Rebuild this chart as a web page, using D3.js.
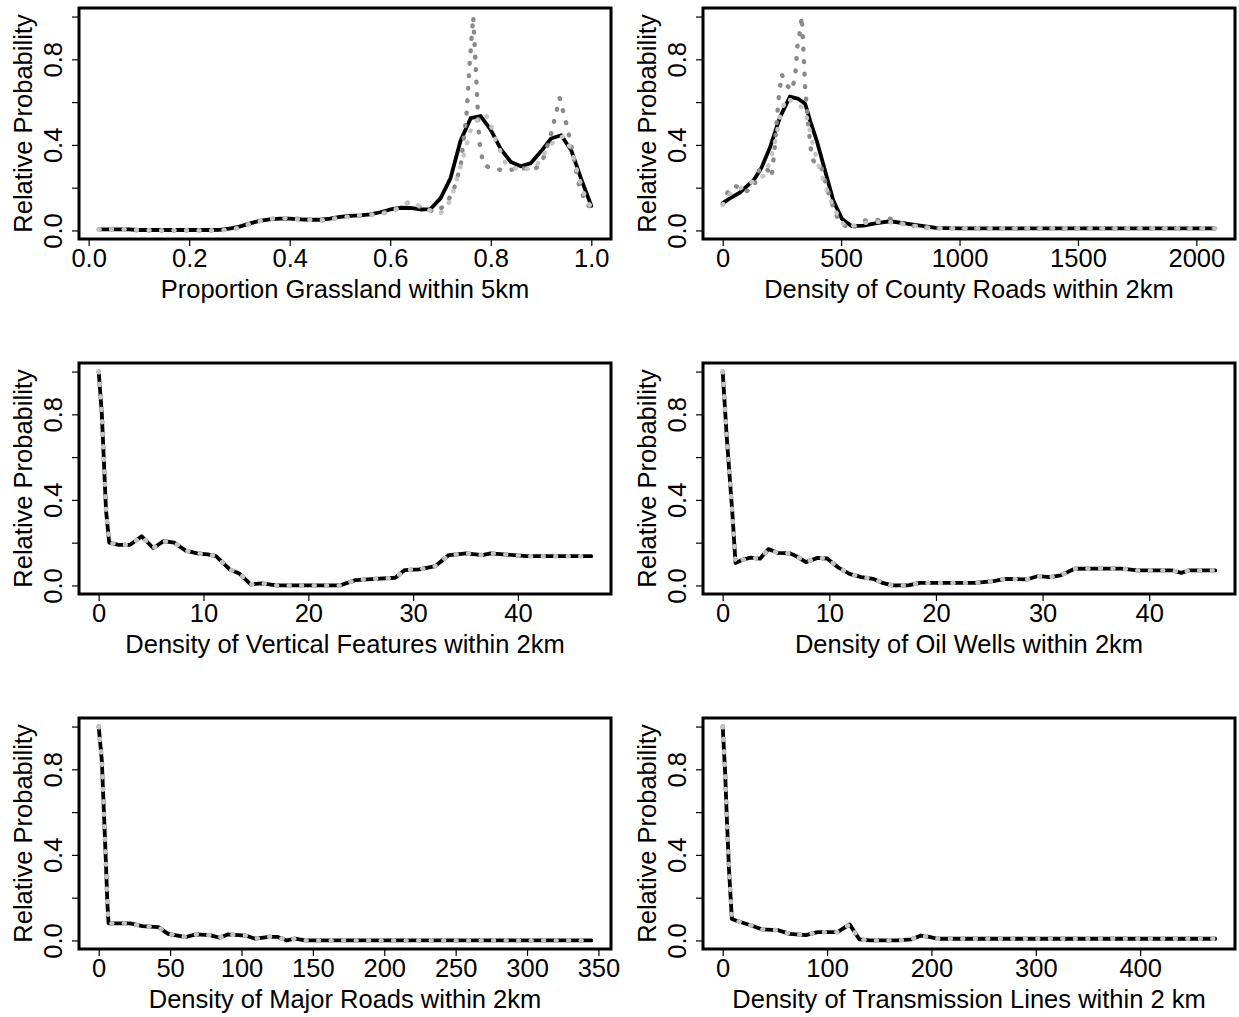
<!DOCTYPE html>
<html>
<head>
<meta charset="utf-8">
<script src="https://cdn.jsdelivr.net/npm/d3@7"></script>
<style>
  html, body { margin: 0; padding: 0; background: #ffffff; }
  svg { display: block; }
  text { font-family: "Liberation Sans", Arial, sans-serif; fill: #000; }
</style>
</head>
<body>
<svg id="fig" width="1239" height="1017"></svg>
<script>
// ---- Proportion grassland within 5 km ----
const grassMeanX = [0.02,0.04,0.06,0.08,0.10,0.12,0.14,0.16,0.18,0.20,0.22,0.24,0.26,0.28,0.30,0.32,0.34,0.36,0.38,0.40,0.42,0.44,0.46,0.48,0.50,0.52,0.54,0.56,0.58,0.60,0.62,0.64,0.66,0.68,0.70,0.72,0.74,0.76,0.78,0.80,0.82,0.84,0.86,0.88,0.90,0.92,0.94,0.96,0.98,1.00];
const grassMeanY = [0.005,0.005,0.005,0.005,0.002,0.002,0.002,0.002,0.002,0.002,0.002,0.002,0.003,0.008,0.018,0.032,0.045,0.052,0.055,0.055,0.052,0.050,0.050,0.055,0.063,0.068,0.070,0.075,0.085,0.098,0.106,0.105,0.098,0.100,0.150,0.245,0.420,0.525,0.535,0.470,0.380,0.320,0.300,0.315,0.370,0.430,0.445,0.375,0.240,0.115];
const grassDarkX = [0.02,0.06,0.10,0.14,0.18,0.22,0.26,0.29,0.32,0.35,0.38,0.42,0.46,0.50,0.54,0.58,0.61,0.635,0.66,0.69,0.71,0.725,0.74,0.752,0.758,0.765,0.771,0.777,0.785,0.80,0.83,0.86,0.89,0.905,0.92,0.937,0.948,0.96,0.975,0.99,1.00];
const grassDarkY = [0.005,0.008,0.0,0.0,0.0,0.0,0.0,0.008,0.03,0.05,0.058,0.055,0.045,0.06,0.07,0.078,0.10,0.13,0.11,0.085,0.12,0.18,0.30,0.55,0.78,1.0,0.72,0.42,0.31,0.29,0.28,0.29,0.29,0.34,0.45,0.62,0.52,0.40,0.22,0.12,0.11];
const grassLightX = [0.02,0.06,0.10,0.14,0.18,0.22,0.26,0.29,0.32,0.35,0.38,0.42,0.46,0.50,0.54,0.58,0.61,0.64,0.67,0.70,0.72,0.74,0.76,0.78,0.795,0.81,0.83,0.86,0.89,0.91,0.93,0.945,0.96,0.975,0.99,1.00];
const grassLightY = [0.005,0.006,0.002,0.0,0.002,0.0,0.0,0.006,0.03,0.05,0.06,0.05,0.048,0.058,0.072,0.075,0.095,0.135,0.10,0.08,0.14,0.30,0.47,0.54,0.53,0.42,0.31,0.28,0.30,0.37,0.43,0.44,0.38,0.25,0.14,0.11];

// ---- Density of county roads within 2 km ----
const countyMeanX = [0,30,70,130,165,200,242,284,320,348,369,397,432,467,503,545,594,650,707,763,833,900,1000,1200,1400,1600,1800,2000,2080];
const countyMeanY = [0.128,0.15,0.175,0.234,0.296,0.389,0.53,0.626,0.615,0.592,0.514,0.42,0.28,0.14,0.055,0.02,0.023,0.034,0.043,0.034,0.023,0.012,0.01,0.01,0.01,0.01,0.01,0.01,0.01];
const countyDarkX = [0,24,52,94,130,158,186,207,221,235,249,270,291,306,315,327,334,341,348,362,376,397,418,439,467,489,538,594,650,707,763,833,900,1000,1200,1400,1600,1800,2000,2080];
const countyDarkY = [0.12,0.187,0.21,0.18,0.2,0.296,0.29,0.25,0.405,0.607,0.73,0.68,0.655,0.716,0.857,0.935,1.0,0.84,0.67,0.483,0.343,0.296,0.29,0.202,0.109,0.047,0.003,0.047,0.047,0.055,0.03,0.016,0.01,0.01,0.01,0.01,0.01,0.01,0.01,0.01];
const countyLightX = [0,30,80,130,180,215,245,270,300,330,355,375,400,430,460,490,520,560,620,700,760,850,900,1000,1200,1400,1600,1800,2000,2080];
const countyLightY = [0.12,0.17,0.2,0.23,0.26,0.38,0.55,0.62,0.6,0.58,0.53,0.43,0.32,0.22,0.13,0.06,0.015,0.025,0.04,0.04,0.03,0.015,0.01,0.01,0.01,0.01,0.01,0.01,0.01,0.01];

// ---- Density of vertical features within 2 km (all three fits coincide) ----
const vertX = [0,0.3,0.7,1.0,1.9,3.0,4.1,5.2,6.2,7.2,8.3,9.4,10.4,11.2,12.5,13.4,14.5,15.5,17,19,21,23,24.5,26.4,28.3,29.2,30.6,32.1,33.4,35.1,36.6,37.4,39.6,40.8,43,45,47];
const vertY = [1.0,0.8,0.35,0.2,0.19,0.19,0.23,0.175,0.207,0.2,0.163,0.15,0.145,0.137,0.075,0.056,0.005,0.01,0.0,0.0,0.0,0.0,0.025,0.031,0.036,0.072,0.075,0.09,0.142,0.15,0.142,0.15,0.142,0.137,0.137,0.137,0.137];

// ---- Density of oil wells within 2 km ----
const wellsX = [0,0.37,0.93,1.2,1.85,2.6,3.5,4.3,5.2,6.3,6.9,7.8,8.9,9.8,10.9,11.9,13,14.1,15,15.9,17.4,18.5,20.4,23.7,25.4,26.5,28.5,29.6,30.7,31.7,33,34.8,37.4,38.9,42.2,43,43.7,46.2];
const wellsY = [1.0,0.7,0.32,0.105,0.12,0.13,0.125,0.17,0.152,0.15,0.137,0.109,0.129,0.126,0.082,0.054,0.039,0.031,0.012,0,0,0.012,0.012,0.012,0.02,0.031,0.028,0.044,0.039,0.047,0.078,0.079,0.079,0.07,0.07,0.059,0.07,0.07];

// ---- Density of major roads within 2 km ----
const majorX = [0,2.2,3.6,5,6.1,6.9,22,30.6,41.7,48.6,61,68,77.8,84.7,90.3,102.8,109.7,119.4,125,131.9,137.5,144.4,200,250,300,345];
const majorY = [1.0,0.84,0.606,0.372,0.17,0.08,0.08,0.067,0.062,0.031,0.016,0.028,0.025,0.0125,0.028,0.023,0.008,0.017,0.017,0.0,0.009,0.0,0,0,0,0];

// ---- Density of transmission lines within 2 km ----
const transX = [0,2.3,3.8,6.1,8.8,14.5,26,37.5,52.8,64.2,79.5,91,110,121.6,131,140.7,167.5,181,190,198,205.7,300,400,472];
const transY = [1.0,0.79,0.59,0.325,0.1,0.09,0.072,0.052,0.048,0.031,0.025,0.039,0.039,0.075,0.005,0.0,0.0,0.005,0.023,0.017,0.008,0.008,0.008,0.008];

// ---- axis text ----
const axisTitles = [
  "Proportion Grassland within 5km",
  "Density of County Roads within 2km",
  "Density of Vertical Features within 2km",
  "Density of Oil Wells within 2km",
  "Density of Major Roads within 2km",
  "Density of Transmission Lines within 2 km"
];
const xTicksGrass = [0, 0.2, 0.4, 0.6, 0.8, 1.0];
const xTickLabelsGrass = ["0.0", "0.2", "0.4", "0.6", "0.8", "1.0"];
const xTicksCounty = [0, 500, 1000, 1500, 2000];
const xTicksVert = [0, 10, 20, 30, 40];
const xTicksWells = [0, 10, 20, 30, 40];
const xTicksMajor = [0, 50, 100, 150, 200, 250, 300, 350];
const xTicksTrans = [0, 100, 200, 300, 400];
const yTicks = [0, 0.2, 0.4, 0.6, 0.8, 1.0];
const yTickLabels = ["0.0", "", "0.4", "", "0.8", ""];
const yTitle = "Relative Probability";

const pair = (xs, ys) => xs.map((x, i) => ({ x: x, y: ys[i] }));

const panels = [
  { title: axisTitles[0], ticks: xTicksGrass, labels: xTickLabelsGrass,
    mean: pair(grassMeanX, grassMeanY), dark: pair(grassDarkX, grassDarkY), light: pair(grassLightX, grassLightY) },
  { title: axisTitles[1], ticks: xTicksCounty,
    mean: pair(countyMeanX, countyMeanY), dark: pair(countyDarkX, countyDarkY), light: pair(countyLightX, countyLightY) },
  { title: axisTitles[2], ticks: xTicksVert,
    mean: pair(vertX, vertY), dark: pair(vertX, vertY), light: pair(vertX, vertY) },
  { title: axisTitles[3], ticks: xTicksWells,
    mean: pair(wellsX, wellsY), dark: pair(wellsX, wellsY), light: pair(wellsX, wellsY) },
  { title: axisTitles[4], ticks: xTicksMajor,
    mean: pair(majorX, majorY), dark: pair(majorX, majorY), light: pair(majorX, majorY) },
  { title: axisTitles[5], ticks: xTicksTrans,
    mean: pair(transX, transY), dark: pair(transX, transY), light: pair(transX, transY) }
];

// ---- layout ----
const colLeft = [79, 703];
const rowTop = [8, 363, 718];
const boxW = 532, boxH = 231;
const FONT = 25.5;

const svg = d3.select("#fig");

// R-style axis limits: data range widened by 4% on each side
function padded(lo, hi) {
  const r = hi - lo;
  return [lo - 0.04 * r, hi + 0.04 * r];
}

panels.forEach((p, i) => {
  const left = colLeft[i % 2];
  const top = rowTop[Math.floor(i / 2)];
  const g = svg.append("g").attr("transform", `translate(${left},${top})`);

  const allX = p.mean.concat(p.dark, p.light).map(d => d.x);
  const x = d3.scaleLinear().domain(padded(d3.min(allX), d3.max(allX))).range([0, boxW]);
  const y = d3.scaleLinear().domain(padded(0, 1)).range([boxH, 0]);

  const line = d3.line().x(d => x(d.x)).y(d => y(d.y));

  // fitted curves: black solid underneath, grey dotted on top
  g.append("path").datum(p.mean).attr("d", line)
    .attr("fill", "none").attr("stroke", "#000").attr("stroke-width", 3.8)
    .attr("stroke-linejoin", "round").attr("stroke-linecap", "round");
  g.append("path").datum(p.dark).attr("d", line)
    .attr("fill", "none").attr("stroke", "#8a8a8a").attr("stroke-width", 4.4)
    .attr("stroke-dasharray", "0.8 11.7").attr("stroke-linecap", "round")
    .attr("stroke-linejoin", "round");
  g.append("path").datum(p.light).attr("d", line)
    .attr("fill", "none").attr("stroke", "#c4c4c4").attr("stroke-width", 4.4)
    .attr("stroke-dasharray", "0.8 11.7").attr("stroke-linecap", "round")
    .attr("stroke-linejoin", "round");

  // plot box
  g.append("rect").attr("x", 0).attr("y", 0).attr("width", boxW).attr("height", boxH)
    .attr("fill", "none").attr("stroke", "#000").attr("stroke-width", 3);

  // x axis
  const xAxis = d3.axisBottom(x).tickValues(p.ticks).tickSize(7)
    .tickFormat((d, k) => p.labels ? p.labels[k] : String(d));
  g.append("g").attr("transform", `translate(0,${boxH})`).call(xAxis)
    .call(a => a.select(".domain").remove())
    .call(a => a.selectAll("line").attr("stroke", "#000").attr("stroke-width", 1.2))
    .call(a => a.selectAll("text").attr("y", 28).attr("dy", 0)
      .attr("font-size", FONT).attr("font-family", "Liberation Sans, Arial, sans-serif").attr("fill", "#000"));

  // y axis with labels drawn parallel to the axis
  const yAxis = d3.axisLeft(y).tickValues(yTicks).tickSize(7)
    .tickFormat((d, k) => yTickLabels[k]);
  g.append("g").call(yAxis)
    .call(a => a.select(".domain").remove())
    .call(a => a.selectAll("line").attr("stroke", "#000").attr("stroke-width", 1.2))
    .call(a => a.selectAll("text")
      .attr("transform", "rotate(-90)")
      .attr("x", 0).attr("y", -17).attr("dy", 0)
      .attr("text-anchor", "middle")
      .attr("font-size", FONT).attr("font-family", "Liberation Sans, Arial, sans-serif").attr("fill", "#000"));

  // axis titles
  g.append("text").attr("x", boxW / 2).attr("y", boxH + 59)
    .attr("text-anchor", "middle").attr("font-size", FONT).text(p.title);
  g.append("text").attr("transform", `translate(-47,${boxH / 2}) rotate(-90)`)
    .attr("text-anchor", "middle").attr("font-size", FONT).text(yTitle);
});
</script>
</body>
</html>
